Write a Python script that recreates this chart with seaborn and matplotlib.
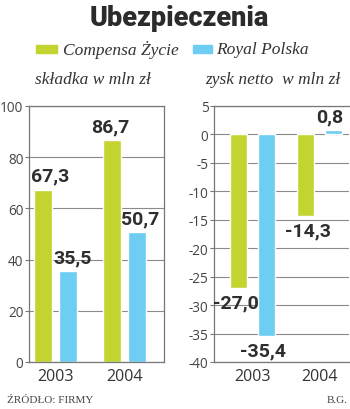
import matplotlib
matplotlib.use("Agg")
import matplotlib.pyplot as plt
import seaborn as sns
import pandas as pd

# ---- data ----
years = ["2003", "2004"]
companies = ["Compensa Życie", "Royal Polska"]
skladka_compensa = [67.3, 86.7]
skladka_royal = [35.5, 50.7]
zysk_compensa = [-27.0, -14.3]
zysk_royal = [-35.4, 0.8]
left_ticks = [0, 20, 40, 60, 80, 100]
right_ticks = [5, 0, -5, -10, -15, -20, -25, -30, -35, -40]

GREEN = "#c3d431"
BLUE = "#6dcdf2"
palette = {companies[0]: GREEN, companies[1]: BLUE}

def frame(a, b):
    rows = []
    for i, y in enumerate(years):
        rows.append({"year": y, "company": companies[0], "value": a[i]})
        rows.append({"year": y, "company": companies[1], "value": b[i]})
    return pd.DataFrame(rows)

df_s = frame(skladka_compensa, skladka_royal)
df_z = frame(zysk_compensa, zysk_royal)

sns.set_theme(style="white")
plt.rcParams["font.family"] = ["DejaVu Sans"]

fig = plt.figure(figsize=(3.5, 4.1), dpi=100)
W, H = 350, 410

def ax_at(x0, y0, x1, y1):
    return fig.add_axes([x0 / W, 1 - y1 / H, (x1 - x0) / W, (y1 - y0) / H])

ax1 = ax_at(29, 107, 164, 363)
ax2 = ax_at(214, 107, 349, 363)

TICKFONT = dict(family="Open Sans", size=9.8, color="#444444")
YEARFONT = dict(family="Open Sans", size=11.5, color="#333333")
LABFONT = dict(family="Roboto", size=14, weight="bold", color="#2e2e2e")

def style(ax, ticks, lim, xlim):
    ax.set_ylim(*lim)
    ax.set_xlim(*xlim)
    ax.set_yticks(ticks)
    ax.set_yticklabels([str(t) for t in ticks], fontdict=TICKFONT)
    ax.set_xticks(range(len(years)))
    ax.set_xticklabels(years, fontdict=YEARFONT)
    ax.set_xlabel("")
    ax.set_ylabel("")
    ax.tick_params(axis="y", length=3, width=0.8, color="#777777", pad=1, direction="out", left=True)
    ax.tick_params(axis="x", length=0, pad=4)
    for s in ax.spines.values():
        s.set_visible(True)
        s.set_color("#777777")
        s.set_linewidth(0.9)
    ax.yaxis.grid(True, color="#8a8a8a", linewidth=0.8)
    ax.set_axisbelow(True)

sns.barplot(data=df_s, x="year", y="value", hue="company", palette=palette,
            width=0.71, gap=0.27, legend=False, ax=ax1, saturation=1)
sns.barplot(data=df_z, x="year", y="value", hue="company", palette=palette,
            width=0.83, gap=0.4, legend=False, ax=ax2, saturation=1)

style(ax1, left_ticks, (0, 100), (-0.38, 1.57))
style(ax2, right_ticks, (-40, 5), (-0.57, 1.44))
ax2.spines["right"].set_visible(False)

def fmt(v):
    return f"{v:.1f}".replace(".", ",")

# per-label horizontal nudges in pixels (order: company0 years, company1 years)
def label(ax, values_by_company, dxs):
    for ci, cont in enumerate(ax.containers):
        for bi, bar in enumerate(cont):
            v = values_by_company[ci][bi]
            xc = bar.get_x() + bar.get_width() / 2
            dx = dxs[ci][bi]
            if v >= 0:
                ax.annotate(fmt(v), (xc, v), xytext=(dx * 0.72, 3.5), textcoords="offset points",
                            ha="center", va="bottom", **LABFONT, annotation_clip=False)
            else:
                ax.annotate(fmt(v), (xc, v), xytext=(dx * 0.72, -4), textcoords="offset points",
                            ha="center", va="top", **LABFONT, annotation_clip=False)

label(ax1, [skladka_compensa, skladka_royal], [[7, -2], [5, 3]])
label(ax2, [zysk_compensa, zysk_royal], [[-2, 2], [-3, -4]])

# title
fig.text(179 / W, 1 - 18 / H, "Ubezpieczenia", ha="center", va="center",
         family="Roboto", weight="black", size=19.5, color="#2b2b2b")

# legend
SERIF = dict(family="Liberation Serif", style="italic", size=12.5, color="#333333")
from matplotlib.patches import Rectangle
fig.patches.append(Rectangle((36 / W, 1 - 54 / H), 21 / W, 8 / H, transform=fig.transFigure,
                             color=GREEN, figure=fig))
fig.text(63 / W, 1 - 50 / H, companies[0], ha="left", va="center", **SERIF)
fig.patches.append(Rectangle((193 / W, 1 - 54 / H), 19 / W, 8 / H, transform=fig.transFigure,
                             color=BLUE, figure=fig))
fig.text(216 / W, 1 - 50 / H, companies[1], ha="left", va="center", **SERIF)

fig.text(35 / W, 1 - 80 / H, "składka w mln zł", ha="left", va="center", **SERIF)
fig.text(205 / W, 1 - 80 / H, "zysk netto  w mln zł", ha="left", va="center", **SERIF)

# footer
fig.text(7 / W, 1 - 401 / H, "ŹRÓDŁO: FIRMY", ha="left", va="center",
         family="Liberation Serif", size=8, color="#444444")
fig.text(348 / W, 1 - 401 / H, "B.G.", ha="right", va="center",
         family="Liberation Serif", size=8, color="#444444")

fig.savefig("out.png", dpi=100, facecolor="white")
